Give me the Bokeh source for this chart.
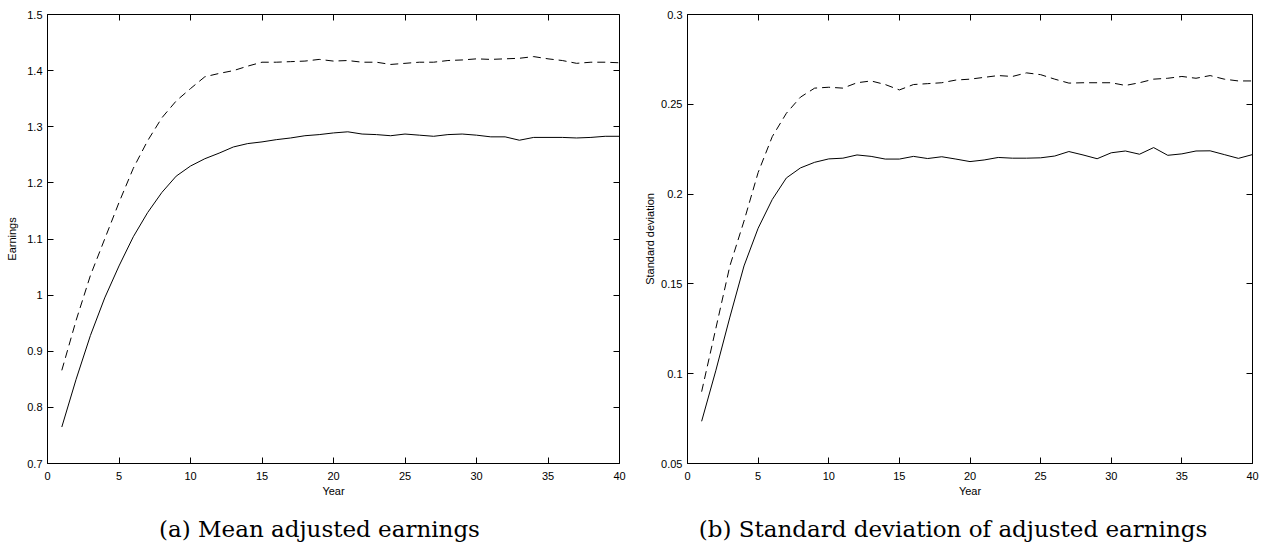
from bokeh.plotting import figure
from bokeh.layouts import row
from bokeh.models import LinearAxis, FixedTicker, Range1d
from bokeh.embed import file_html
from bokeh.resources import INLINE

years = list(range(1, 41))

mean_solid = [0.765, 0.850, 0.928, 0.995, 1.052, 1.104, 1.147, 1.183, 1.212, 1.230,
              1.243, 1.253, 1.264, 1.270, 1.273, 1.277, 1.280, 1.284, 1.286, 1.289,
              1.291, 1.287, 1.286, 1.284, 1.287, 1.285, 1.283, 1.286, 1.287, 1.285,
              1.282, 1.282, 1.276, 1.281, 1.281, 1.281, 1.280, 1.281, 1.283, 1.283]
mean_dashed = [0.866, 0.955, 1.035, 1.100, 1.165, 1.226, 1.275, 1.316, 1.346, 1.368,
               1.389, 1.395, 1.400, 1.408, 1.415, 1.415, 1.416, 1.417, 1.420, 1.417,
               1.418, 1.415, 1.415, 1.411, 1.413, 1.415, 1.415, 1.418, 1.419, 1.421,
               1.420, 1.421, 1.422, 1.425, 1.421, 1.418, 1.413, 1.415, 1.415, 1.414]
sd_solid = [0.0735, 0.1016, 0.1315, 0.1600, 0.1810, 0.1970, 0.2090, 0.2146, 0.2177, 0.2196,
            0.2200, 0.2218, 0.2210, 0.2195, 0.2195, 0.2210, 0.2198, 0.2208, 0.2195, 0.2181,
            0.2190, 0.2204, 0.2200, 0.2200, 0.2202, 0.2212, 0.2237, 0.2218, 0.2197, 0.2230,
            0.2240, 0.2222, 0.2259, 0.2216, 0.2224, 0.2240, 0.2241, 0.2220, 0.2199, 0.2220]
sd_dashed = [0.0900, 0.1250, 0.1600, 0.1850, 0.2120, 0.2320, 0.2450, 0.2540, 0.2590, 0.2595,
             0.2590, 0.2620, 0.2630, 0.2610, 0.2580, 0.2610, 0.2615, 0.2620, 0.2635, 0.2640,
             0.2650, 0.2660, 0.2655, 0.2675, 0.2665, 0.2640, 0.2618, 0.2620, 0.2620, 0.2620,
             0.2605, 0.2620, 0.2640, 0.2645, 0.2655, 0.2645, 0.2660, 0.2640, 0.2630, 0.2630]

x_ticks = [0, 5, 10, 15, 20, 25, 30, 35, 40]
mean_ticks = [0.7, 0.8, 0.9, 1.0, 1.1, 1.2, 1.3, 1.4, 1.5]
mean_tick_labels = ["0.7", "0.8", "0.9", "1", "1.1", "1.2", "1.3", "1.4", "1.5"]
sd_ticks = [0.05, 0.1, 0.15, 0.2, 0.25, 0.3]
sd_tick_labels = ["0.05", "0.1", "0.15", "0.2", "0.25", "0.3"]

TICK_FONT = "Liberation Sans"


def style_axis(ax, show_labels=True):
    ax.major_tick_in = 6
    ax.major_tick_out = 0
    ax.minor_tick_in = 0
    ax.minor_tick_out = 0
    ax.minor_tick_line_color = None
    ax.axis_line_color = "black"
    ax.axis_line_width = 1
    ax.major_tick_line_color = "black"
    ax.major_tick_line_width = 1
    ax.major_label_text_font = TICK_FONT
    ax.axis_label_text_font = TICK_FONT
    ax.axis_label_text_font_style = "normal"
    ax.axis_label_text_color = "black"
    if show_labels:
        ax.axis_label_text_font_size = "11px"
        ax.major_label_text_color = "black"
        ax.major_label_text_font_size = "11px"
        ax.major_label_standoff = 5
    else:
        ax.axis_label = None
        ax.axis_label_text_font_size = "1px"
        ax.major_label_text_color = None
        ax.major_label_text_alpha = 0
        ax.major_label_text_font_size = "1px"
        ax.major_label_standoff = 0
        ax.axis_label_standoff = 0


def make_panel(y_lo, y_hi, y_ticks, y_labels, solid, dashed, ylabel, caption,
               frame_w, frame_h, b_left, b_top, b_right, b_bottom,
               ylabel_standoff, cap_x):
    p = figure(frame_width=frame_w, frame_height=frame_h,
               x_range=Range1d(0, 40), y_range=Range1d(y_lo, y_hi),
               output_backend="svg", toolbar_location=None,
               min_border_left=b_left, min_border_top=b_top,
               min_border_right=b_right, min_border_bottom=b_bottom,
               background_fill_color="white", border_fill_color="white")
    p.title = None
    p.grid.visible = False
    p.outline_line_color = "black"
    p.outline_line_width = 1

    p.xaxis.ticker = FixedTicker(ticks=x_ticks)
    p.yaxis.ticker = FixedTicker(ticks=y_ticks)
    p.yaxis.major_label_overrides = {t: l for t, l in zip(y_ticks, y_labels)}
    p.xaxis.axis_label = "Year"
    p.yaxis.axis_label = ylabel
    for ax in p.xaxis + p.yaxis:
        style_axis(ax)
    p.xaxis.major_label_standoff = 8
    p.xaxis.axis_label_standoff = 2
    p.yaxis.major_label_standoff = 5
    p.yaxis.axis_label_standoff = ylabel_standoff

    # box ticks on the top and right edges, fixed at the frame edges
    top = LinearAxis(ticker=FixedTicker(ticks=x_ticks), fixed_location=y_hi)
    right = LinearAxis(ticker=FixedTicker(ticks=y_ticks), fixed_location=40)
    style_axis(top, show_labels=False)
    style_axis(right, show_labels=False)
    p.add_layout(top, "above")
    p.add_layout(right, "right")

    # caption: the single label of a bare axis placed below "Year"
    cap = LinearAxis(ticker=FixedTicker(ticks=[cap_x]))
    style_axis(cap, show_labels=False)
    cap.axis_line_color = None
    cap.major_tick_line_color = None
    cap.major_tick_in = 0
    cap.major_label_overrides = {cap_x: caption}
    cap.major_label_text_color = "black"
    cap.major_label_text_alpha = 1
    cap.major_label_text_font = "DejaVu Serif"
    cap.major_label_text_font_size = "23px"
    cap.major_label_standoff = 16
    p.add_layout(cap, "below")

    p.line(years, solid, line_color="black", line_width=1)
    p.line(years, dashed, line_color="black", line_width=1, line_dash="8 5")
    return p


# the row aligns the two plots' borders, so both share the same top border
p1 = make_panel(0.7, 1.5, mean_ticks, mean_tick_labels, mean_solid, mean_dashed,
                "Earnings", "(a) Mean adjusted earnings",
                572, 449, 47, 14, 21, 80, 6, 19.02)
p2 = make_panel(0.05, 0.3, sd_ticks, sd_tick_labels, sd_solid, sd_dashed,
                "Standard deviation", "(b) Standard deviation of adjusted earnings",
                565, 449, 47, 14, 18, 80, 2, 18.8)

layout = row(p1, p2)
open("out.html", "w").write(file_html(layout, INLINE))
